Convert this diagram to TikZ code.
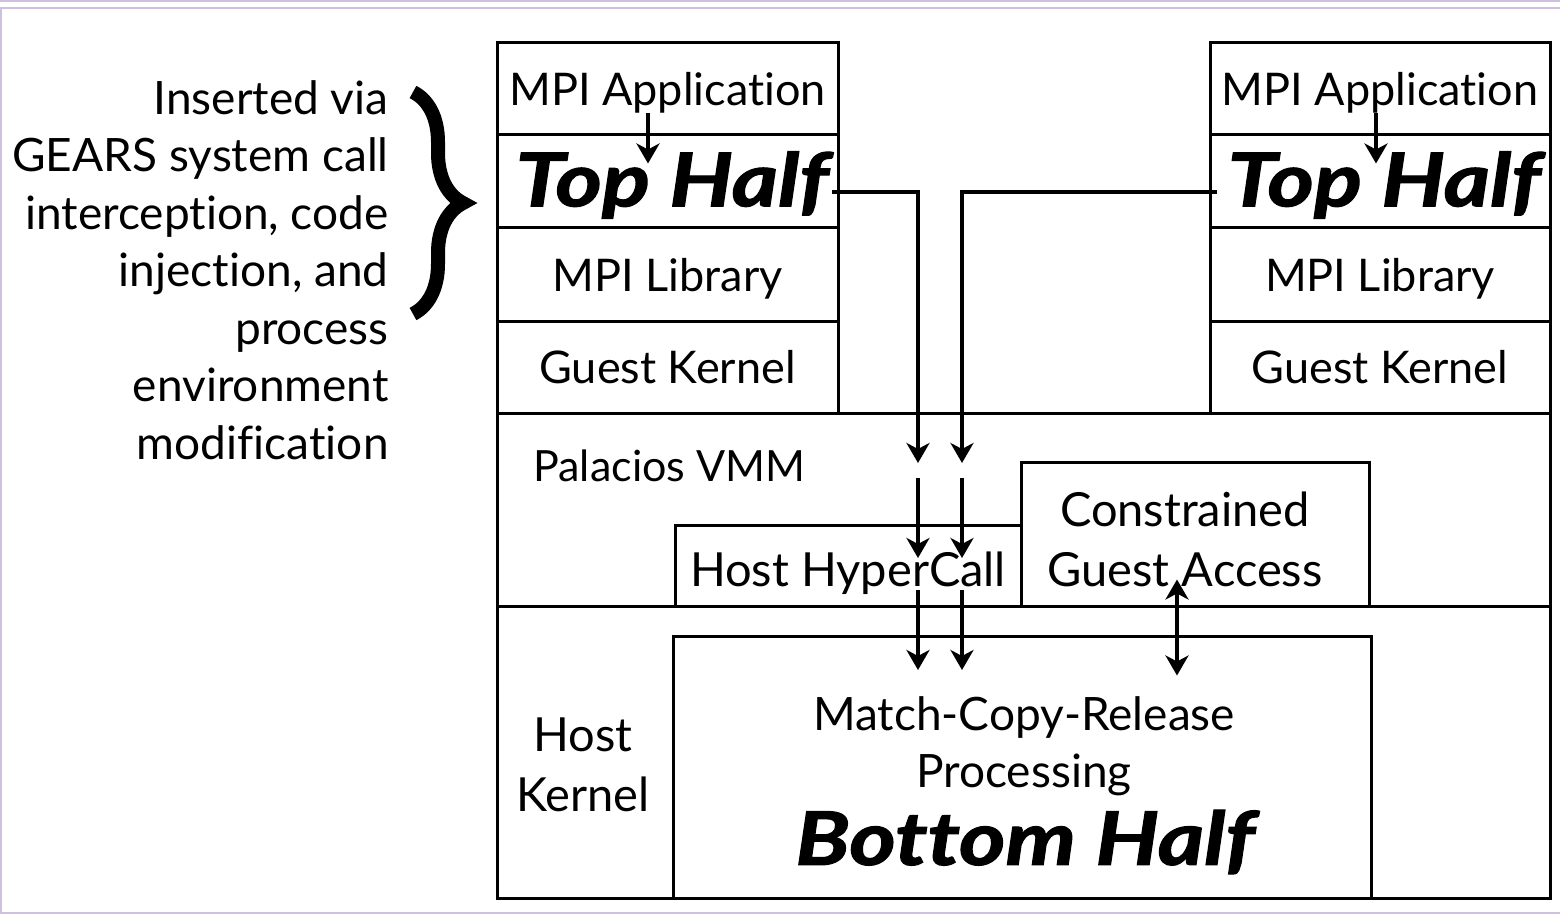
\documentclass[tikz,border=0pt]{standalone}
\usepackage{fontspec}
\setmainfont{Lato}[Ligatures={NoCommon,NoContextual}]
\newfontfamily\halffont{Lato}[Ligatures={NoCommon,NoContextual},BoldItalicFeatures={FakeBold=1.5}]
\usetikzlibrary{arrows.meta,decorations.pathreplacing}

\definecolor{lavender}{RGB}{208,192,222}

\tikzset{
  >={Stealth[length=10pt,width=11.5pt,inset=3pt]},
  layer/.style={draw, line width=1.5pt, inner sep=0pt, align=center, text depth=0pt,
    font=\fontsize{22.5}{30}\selectfont},
  label/.style={inner sep=0pt, align=center, font=\fontsize{23.5}{30}\selectfont},
  half/.style={inner sep=0pt, font=\fontsize{37}{40}\halffont\bfseries\itshape},
  call/.style={->, line width=2pt},
  note/.style={align=right, inner sep=0pt, font=\fontsize{23}{28.75}\selectfont},
  frame/.style={draw=lavender, line width=1.2pt},
}
\newcommand{\wide}[1]{\scalebox{1.2}[1]{#1}}

\begin{document}
\begin{tikzpicture}[x=0.5pt,y=-0.5pt]
  \useasboundingbox (0,0) rectangle (1560,915);
  \draw[frame] (-5,1) -- (1565,1);
  \draw[frame] (1,8) rectangle (1565,913);

  % guest stacks
  \node[layer, minimum width=170.5pt, minimum height=46pt] (appL) at (667.5,89) {MPI Application};
  \node[layer, minimum width=170.5pt, minimum height=46.5pt] (topL) at (667.5,181.5) {};
  \node[half] (topLText) at (672,185) {\wide{Top Half}};
  \node[layer, minimum width=170.5pt, minimum height=46.5pt] (libL) at (667.5,274.5) {MPI Library};
  \node[layer, minimum width=170.5pt, minimum height=46pt] (kernL) at (667.5,367) {Guest Kernel};

  \node[layer, minimum width=170pt, minimum height=46pt] (appR) at (1380,89) {MPI Application};
  \node[layer, minimum width=170pt, minimum height=46.5pt] (topR) at (1380,181.5) {};
  \node[half] (topRText) at (1384,185) {\wide{Top Half}};
  \node[layer, minimum width=170pt, minimum height=46.5pt] (libR) at (1380,274.5) {MPI Library};
  \node[layer, minimum width=170pt, minimum height=46pt] (kernR) at (1380,367) {Guest Kernel};

  % vmm and host
  \node[layer, minimum width=526.5pt, minimum height=96.5pt] (vmm) at (1023.5,509.5) {};
  \node[label, anchor=west, font=\fontsize{21.5}{30}\selectfont] (vmmText) at (533,466) {Palacios VMM};
  \node[layer, minimum width=173pt, minimum height=40.5pt] (hcall) at (848,565.5) {};
  \node[label] (hcallText) at (848,573) {Host HyperCall};
  \node[layer, minimum width=174pt, minimum height=72pt] (access) at (1195,534) {};
  \node[label] (accessText) at (1185,539) {Constrained\\Guest Access};

  \node[layer, minimum width=526.5pt, minimum height=146pt] (host) at (1023.5,752) {};
  \node[label] (hostText) at (583,765) {Host\\Kernel};
  \node[layer, minimum width=349pt, minimum height=131pt] (mcr) at (1022,767) {};
  \node[label, font=\fontsize{23}{28.5}\selectfont] (mcrText) at (1024,746) {Match-Copy-Release\\Processing};
  \node[half] (bottom) at (1025,842) {\wide{Bottom Half}};

  % brace and note
  \node[note, anchor=north east] (gears) at (389,80) {Inserted via\\GEARS system call\\interception, code\\injection, and\\process\\environment\\modification};
  \draw[decorate, decoration={brace, amplitude=25pt}, line width=7pt] (413,92) -- (413,314);

  % calls
  \coordinate (dropL) at (918,463);
  \coordinate (dropR) at (962,463);
  \draw[call] ([shift={(-19.5,-23)}]appL.south) -- ([shift={(-19.5,30)}]topL.north);
  \draw[call] ([shift={(-4,-23)}]appR.south) -- ([shift={(-4,30)}]topR.north);
  \draw[call] ([shift={(-8,10.5)}]topL.east) -| (dropL);
  \draw[call] ([shift={(8,10.5)}]topR.west) -| (dropR);
  \draw[call] ([shift={(0,15)}]dropL) -- ([shift={(0,95)}]dropL);
  \draw[call] ([shift={(0,15)}]dropR) -- ([shift={(0,95)}]dropR);
  \draw[call] ([shift={(0,127)}]dropL) -- ([shift={(0,207)}]dropL);
  \draw[call] ([shift={(0,127)}]dropR) -- ([shift={(0,207)}]dropR);
  \draw[call, <->] ([shift={(-18,-28)}]access.south) -- ([shift={(155,41)}]mcr.north);
\end{tikzpicture}
\end{document}
